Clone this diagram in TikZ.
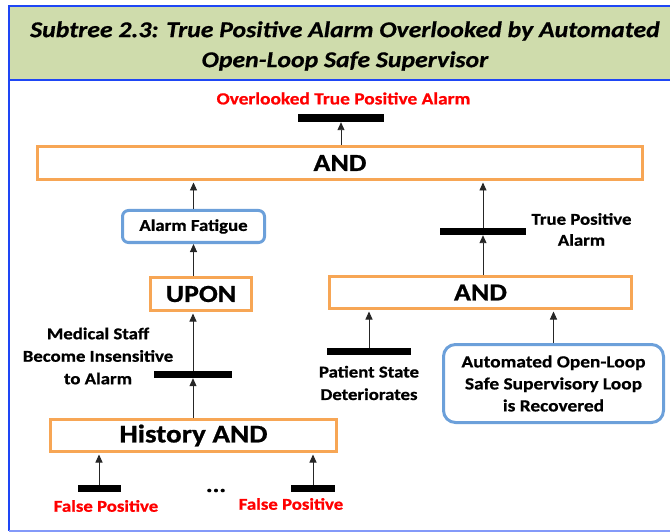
\documentclass[tikz,border=0pt]{standalone}
\usepackage{fontspec}
\setmainfont{Carlito}[FakeStretch=1.14,
  BoldFeatures={FakeBold=0.8}, BoldItalicFeatures={FakeBold=0.6}]
\usetikzlibrary{arrows.meta}

\definecolor{titlegreen}{RGB}{207,220,172}
\definecolor{framebl}{RGB}{30,70,245}
\definecolor{gateor}{RGB}{247,166,85}
\definecolor{eventbl}{RGB}{108,160,218}
\definecolor{alarmred}{RGB}{255,0,0}

\begin{document}
\begin{tikzpicture}[x=1pt,y=-1pt,
  gate/.style={draw=gateor, line width=3pt, inner sep=0pt,
    font=\fontsize{24.5}{28}\selectfont\bfseries},
  event/.style={draw=eventbl, line width=3pt, rounded corners=7pt, inner sep=0pt,
    align=center, font=\fontsize{17}{22}\selectfont\bfseries},
  bar/.style={fill=black, inner sep=0pt},
  lbl/.style={align=center, inner sep=0pt, font=\fontsize{16.5}{22.5}\selectfont\bfseries},
  redlbl/.style={lbl, text=alarmred},
  arr/.style={-{Triangle[width=7pt,length=8pt]}, line width=0.9pt, draw=black!85},
  tobox/.style={arr, shorten >=1.5pt}
]
\useasboundingbox (0,0) rectangle (670,532);

% title band and frame
\fill[titlegreen] (9,6) rectangle (670,80);
\draw[framebl, line width=1.5pt] (670,6) -- (9,6) -- (9,531);
\draw[framebl, line width=1.5pt] (9,80) -- (670,80);
\draw[framebl!55, line width=1.5pt] (9,531) -- (670,531);
\node[font=\fontsize{22.6}{30}\selectfont\bfseries\itshape, align=center, inner sep=0pt]
  (title) at (345,46) {Subtree 2.3: True Positive Alarm Overlooked by Automated\\Open-Loop Safe Supervisor};

% top event
\node[redlbl, font=\fontsize{17}{22}\selectfont\bfseries] (toplbl) at (343.5,98.5) {Overlooked True Positive Alarm};
\node[bar, minimum width=86pt, minimum height=8pt] (topbar) at (341,118) {};

% gates
\node[gate, minimum width=605pt, minimum height=33pt] (topand) at (340,163) {AND};
\node[gate, minimum width=101pt, minimum height=33pt] (upon) at (201,294) {UPON};
\node[gate, minimum width=302pt, minimum height=32pt] (rand) at (480.5,292.5) {AND};
\node[gate, minimum width=286pt, minimum height=32pt, font=\fontsize{25.5}{30}\selectfont\bfseries]
  (hist) at (193.5,435.5) {History AND};

% intermediate events
\node[event, minimum width=142pt, minimum height=32pt, rounded corners=6pt,
  font=\fontsize{16.5}{22}\selectfont\bfseries] (alarmfat) at (193.5,226.5) {Alarm Fatigue};
\node[event, minimum width=220pt, minimum height=78pt, rounded corners=12pt]
  (auto) at (553.5,383.5) {Automated Open-Loop\\Safe Supervisory Loop\\is Recovered};

% basic event bars
\node[bar, minimum width=86pt, minimum height=7pt] (tpbar) at (483,231.5) {};
\node[bar, minimum width=78pt, minimum height=7pt] (msbar) at (193,374.5) {};
\node[bar, minimum width=84pt, minimum height=7pt] (ptbar) at (369,351.5) {};
\node[bar, minimum width=43pt, minimum height=7pt] (fpabar) at (99,488.5) {};
\node[bar, minimum width=44pt, minimum height=7pt] (fpbbar) at (313,488.5) {};

% labels
\node[lbl, font=\fontsize{16.5}{21}\selectfont\bfseries] (tplbl) at (581.5,229.5) {True Positive\\Alarm};
\node[lbl] (mslbl) at (98,356) {Medical Staff\\Become Insensitive\\to Alarm};
\node[lbl] (ptlbl) at (369,383) {Patient State\\Deteriorates};
\node[redlbl] (fpalbl) at (106,506) {False Positive};
\node[redlbl] (fpblbl) at (291,504) {False Positive};
\node[lbl, anchor=base, font=\fontsize{22}{22}\selectfont\bfseries] (dots) at (216,492) {...};

% connectors
\draw[arr] (topbar.south |- topand.north) -- (topbar.south);
\draw[tobox] (alarmfat.north) -- (alarmfat.north |- topand.south);
\draw[tobox] (tpbar.north) -- (tpbar.north |- topand.south);
\draw[arr] (tpbar.south |- rand.north) -- (tpbar.south);
\draw[arr] (alarmfat.south |- upon.north) -- (alarmfat.south);
\draw[tobox] (msbar.north) -- (msbar.north |- upon.south);
\draw[arr] (msbar.south |- hist.north) -- (msbar.south);
\draw[tobox] (ptbar.north) -- (ptbar.north |- rand.south);
\draw[tobox] (auto.north) -- (auto.north |- rand.south);
\draw[tobox] (fpabar.north) -- (fpabar.north |- hist.south);
\draw[tobox] (fpbbar.north) -- (fpbbar.north |- hist.south);
\end{tikzpicture}
\end{document}
